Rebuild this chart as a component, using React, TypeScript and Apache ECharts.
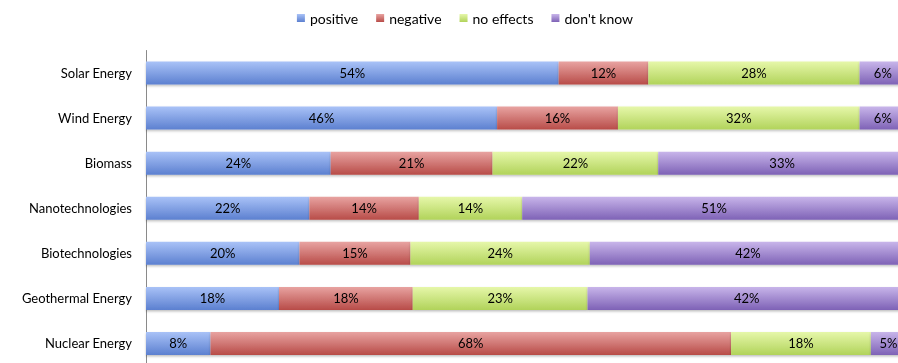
import React, { useEffect, useRef } from "react";
import * as echarts from "echarts";

const categories = [
  "Solar Energy",
  "Wind Energy",
  "Biomass",
  "Nanotechnologies",
  "Biotechnologies",
  "Geothermal Energy",
  "Nuclear Energy",
];
const positive = [54.3, 46.2, 24.3, 21.5, 20.2, 17.5, 8.49];
const negative = [11.8, 15.9, 21.3, 14.4, 14.6, 17.6, 68.49];
const noEffects = [27.8, 31.8, 21.8, 13.6, 23.6, 23.0, 18.4];
const dontKnow = [6.1, 6.1, 32.6, 50.5, 41.6, 41.9, 4.62];
const seriesNames = ["positive", "negative", "no effects", "don't know"];

const grad = (top: string, bottom: string) =>
  new echarts.graphic.LinearGradient(0, 0, 0, 1, [
    { offset: 0, color: top },
    { offset: 1, color: bottom },
  ]);

export default function App() {
  const ref = useRef<HTMLDivElement>(null);
  useEffect(() => {
    if (!ref.current) return;
    const chart = echarts.init(ref.current, null, { renderer: "svg" });
    const font = "Lato, 'Open Sans', sans-serif";
    const colors = [
      ["#a9c2f7", "#5c80d0"],
      ["#e8a3a1", "#b84c48"],
      ["#e6f7aa", "#b1d35a"],
      ["#c8b5ea", "#7e62b6"],
    ];
    const datas = [positive, negative, noEffects, dontKnow];
    chart.setOption({
      animation: false,
      textStyle: { fontFamily: font },
      legend: {
        top: 6,
        left: "center",
        icon: "rect",
        itemWidth: 8,
        itemHeight: 8,
        itemGap: 18,
        textStyle: { fontSize: 14, color: "#000", fontFamily: font },
        data: seriesNames,
      },
      grid: { left: 146, right: 24, top: 50.5, bottom: 4, containLabel: false },
      xAxis: {
        type: "value",
        min: 0,
        max: 100,
        show: false,
        splitLine: { show: false },
      },
      yAxis: {
        type: "category",
        data: categories,
        inverse: true,
        axisLine: { show: true, lineStyle: { color: "#8a8a8a", width: 1 } },
        axisTick: { show: false },
        axisLabel: { color: "#000", fontSize: 13, margin: 14, fontFamily: font },
      },
      series: seriesNames.map((name, i) => ({
        name,
        type: "bar",
        stack: "total",
        barWidth: 23,
        data: datas[i],
        itemStyle: {
          color: grad(colors[i][0], colors[i][1]),
          shadowColor: "rgba(0,0,0,0.25)",
          shadowBlur: 2,
          shadowOffsetY: 1.5,
        },
        label: {
          show: true,
          position: "inside",
          color: "#000",
          fontSize: 13,
          fontFamily: font,
          formatter: (p: any) => Math.round(p.value) + "%",
        },
      })),
    });
    return () => chart.dispose();
  }, []);
  return (
    <div
      ref={ref}
      style={{ position: "fixed", left: 0, top: 0, width: 930, height: 370 }}
    />
  );
}
